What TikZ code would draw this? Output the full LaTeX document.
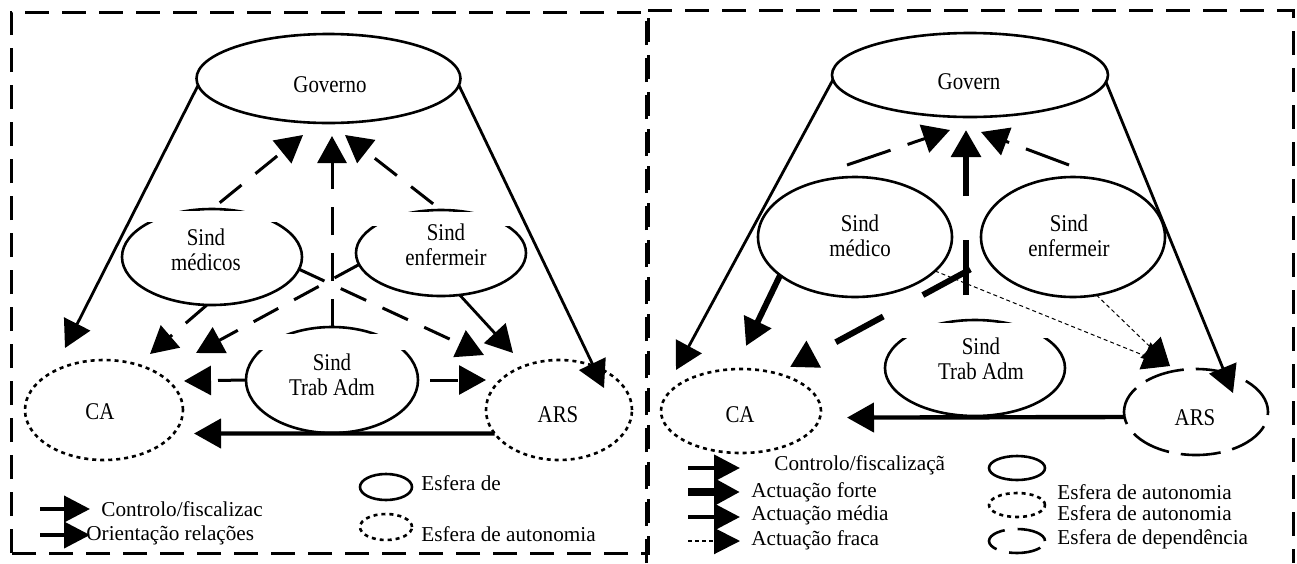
\documentclass[tikz,border=0pt]{standalone}
\usepackage{fontspec}
\setmainfont{Liberation Serif}
\newfontfamily\lblfont{Liberation Serif}[FakeStretch=0.87]
\usetikzlibrary{arrows.meta,shapes.geometric}
\begin{document}
\begin{tikzpicture}[x=0.5pt,y=-0.5pt,
 sph/.style={ellipse, draw, line width=1.3pt, inner sep=0pt, outer sep=0pt},
 autosph/.style={sph, dash pattern=on 2pt off 2pt},
 depsph/.style={sph, dash pattern=on 20pt off 6pt},
 lbl/.style={font=\lblfont\fontsize{12pt}{12.5pt}\selectfont, align=center, inner sep=0pt},
 legtxt/.style={font=\fontsize{10.6pt}{12pt}\selectfont, anchor=west, inner sep=0pt},
 frame/.style={line width=1.5pt, dash pattern=on 12pt off 6.5pt},
 tip/.style={-{Triangle[length=13.5pt,width=14.5pt]}},
 ctl/.style={tip, line width=1.4pt},
 dsh/.style={tip, line width=1.5pt, dash pattern=on 14pt off 9pt},
 forte/.style={tip, line width=3pt},
 media/.style={tip, line width=1.5pt},
 fraca/.style={tip, line width=0.5pt, dash pattern=on 2pt off 1.5pt},
 legtip/.style={-{Triangle[length=13pt,width=13pt]}},
]
\fill[white] (0,0) rectangle (1297,563);
\useasboundingbox (0,0) rectangle (1297,563);

% frames
\draw[frame] (11,553) rectangle (648,12);
\draw[frame] (646,563) -- (646,10) -- (1293,10) -- (1293,563);

% ================= LEFT PANEL =================
\node[sph, minimum width=132pt, minimum height=44.5pt] (gov) at (328.5,78.5) {};
\node[sph, minimum width=90pt, minimum height=48pt] (med) at (212,257) {};
\node[sph, minimum width=85pt, minimum height=43pt] (enf) at (441,253) {};
\node[sph, minimum width=86pt, minimum height=53pt] (trab) at (332,380) {};
\node[autosph, minimum width=79pt, minimum height=50pt] (ca) at (104,410) {};
\node[autosph, minimum width=73pt, minimum height=50pt] (ars) at (559,410) {};

% gaps in outlines
\fill[white] (140,211) rectangle (285,222);
\fill[white] (370,211.5) rectangle (520,226);
\fill[white] (240,334) rectangle (430,350);

\node[lbl] (govT) at (330,85) {Governo};
\node[lbl] (medT) at (206,249.5) {Sind\\médicos};
\node[lbl] (enfT) at (446,244.5) {Sind\\enfermeir};
\node[lbl] (trabT) at (332,374.5) {Sind\\Trab Adm};
\node[lbl] (caT) at (100,412) {CA};
\node[lbl] (arsT) at (558,415) {ARS};

\coordinate (tGovCA) at (65,348);
\coordinate (tGovARS) at (604,388);
\coordinate (tARSCA) at (194,433.5);
\coordinate (tMG) at (303,135);
\coordinate (tTG) at (332,136);
\coordinate (tEG) at (345,135);
\coordinate (tMA) at (484,355);
\coordinate (tEC) at (196,353);
\coordinate (tMC) at (150,354);
\coordinate (tEA) at (513,353);
\coordinate (tTC) at (184,381);
\coordinate (tTA) at (486,380);

\draw[ctl] (gov.183.5) -- (tGovCA);
\draw[ctl] (gov.-3.7) -- (tGovARS);
\draw[ctl, line width=2.2pt] (ars.200) -- (tARSCA);
\draw[dsh, shorten <=5pt] (med.north) -- (tMG);
\draw[dsh] (trab.north) -- (tTG);
\draw[dsh, shorten <=5pt] (enf.north) -- (tEG);
\draw[dsh] (med.-8.2) -- (tMA);
\draw[dsh] (enf.188) -- (tEC);
\draw[dsh] (med.264) -- (tMC);
\draw[ctl] (enf.-66.6) -- (tEA);
\draw[dsh] (trab.west) -- (tTC);
\draw[dsh, shorten <=6pt] (trab.east) -- (tTA);

% left legend
\coordinate (la1) at (40,509); \coordinate (lb1) at (90,509);
\coordinate (la2) at (40,535); \coordinate (lb2) at (90,535);
\draw[legtip, line width=2pt] (la1) -- (lb1);
\draw[legtip, line width=2pt] (la2) -- (lb2);
\node[legtxt] (lt1) at (101,509) {Controlo/fiscalizac};
\node[legtxt] (lt2) at (86,535) {Orientação relações};
\node[sph, minimum width=26pt, minimum height=13pt] (le1) at (386,487) {};
\node[autosph, minimum width=26pt, minimum height=13pt] (le2) at (386,527) {};
\node[legtxt] (lt3) at (421,483) {Esfera de};
\node[legtxt] (lt4) at (421,534) {Esfera de autonomia};

% ================= RIGHT PANEL =================
\node[sph, minimum width=138pt, minimum height=42pt] (gov2) at (970,75) {};
\node[sph, minimum width=97pt, minimum height=60pt] (med2) at (855,237) {};
\node[sph, minimum width=92pt, minimum height=60pt] (enf2) at (1073,237) {};
\node[sph, minimum width=90pt, minimum height=48pt] (trab2) at (975,368) {};
\node[autosph, minimum width=80pt, minimum height=42pt] (ca2) at (741,411) {};
\node[depsph, minimum width=72pt, minimum height=43pt] (ars2) at (1196,412) {};

\fill[white] (880,323) rectangle (1070,338);

\node[lbl] (gov2T) at (969,82) {Govern};
\node[lbl] (med2T) at (860,235.5) {Sind\\médico};
\node[lbl] (enf2T) at (1069,235.5) {Sind\\enfermeir};
\node[lbl] (trab2T) at (981,359) {Sind\\Trab Adm};
\node[lbl] (ca2T) at (740,415) {CA};
\node[lbl] (ars2T) at (1195,418) {ARS};

\coordinate (uGC) at (676,370);
\coordinate (uGA) at (1233,393);
\coordinate (uAC) at (847,417.6);
\coordinate (sMG2) at (847,165);
\coordinate (uMG) at (950,130);
\coordinate (uTG) at (966,130);
\coordinate (sEG2) at (1069,165);
\coordinate (uEG) at (981,132);
\coordinate (uMC) at (746,346);
\coordinate (uEC) at (790,367);
\coordinate (uMA) at (1170,366);

\draw[ctl] (gov2.182) -- (uGC);
\draw[ctl] (gov2.-3) -- (uGA);
\draw[ctl, line width=2.2pt] (ars2.184.5) -- (uAC);
\draw[media, dash pattern=on 23pt off 9pt] (sMG2) -- (uMG);
\draw[forte, dash pattern=on 27.5pt off 22pt, dash phase=37pt] (trab2.north -| uTG) -- (uTG);
\draw[media, dash pattern=on 23pt off 9pt] (sEG2) -- (uEG);
\draw[forte] (med2.207.8) -- (uMC);
\draw[forte, dash pattern=on 27pt off 22.5pt, dash phase=39.5pt] (enf2.195.4) -- (uEC);
\draw[fraca] (med2.-23.1) -- (uMA);
\draw[fraca] (enf2.-68.5) -- (uMA);

% right legend
\coordinate (ra1) at (688,468); \coordinate (rb1) at (740,468);
\coordinate (ra2) at (688,492); \coordinate (rb2) at (740,492);
\coordinate (ra3) at (688,517); \coordinate (rb3) at (740,517);
\coordinate (ra4) at (688,541); \coordinate (rb4) at (740,541);
\draw[legtip, line width=2.2pt] (ra1) -- (rb1);
\draw[legtip, line width=4pt] (ra2) -- (rb2);
\draw[legtip, line width=2.2pt] (ra3) -- (rb3);
\draw[legtip, line width=1pt, dash pattern=on 2pt off 1.5pt] (ra4) -- (rb4);
\node[legtxt] (rt1) at (774,465) {Controlo/fiscalizaçã};
\node[legtxt] (rt2) at (751,492) {Actuação forte};
\node[legtxt] (rt3) at (751,515) {Actuação média};
\node[legtxt] (rt4) at (751,540) {Actuação fraca};
\node[sph, minimum width=28pt, minimum height=12pt] (re1) at (1017,468) {};
\node[autosph, minimum width=28pt, minimum height=12pt] (re2) at (1017,505) {};
\node[depsph, minimum width=28pt, minimum height=12pt, dash pattern=on 16pt off 6.5pt] (re3) at (1017,541) {};
\node[legtxt] (rt5) at (1057,492) {Esfera de autonomia};
\node[legtxt] (rt6) at (1057,513) {Esfera de autonomia};
\node[legtxt] (rt7) at (1057,539) {Esfera de dependência};
\end{tikzpicture}
\end{document}
